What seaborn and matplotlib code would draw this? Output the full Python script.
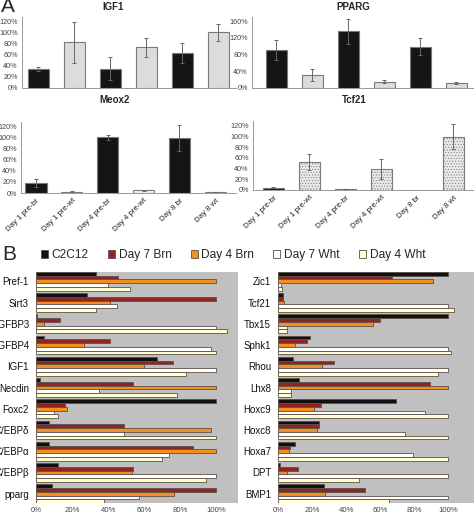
import numpy as np
import pandas as pd
import matplotlib
matplotlib.use("Agg")
import matplotlib.pyplot as plt
import seaborn as sns
from matplotlib.ticker import PercentFormatter

# ==========================================
# Data - panel A (relative expression, %)
# ==========================================

samples = ["Day 1 pre-br", "Day 1 pre-wt", "Day 4 pre-br",
           "Day 4 pre-wt", "Day 8 br", "Day 8 wt"]

igf1 = [35, 83, 35, 74, 63, 101]
igf1_err = [4, 37, 21, 17, 18, 16]

pparg = [91, 31, 136, 15, 99, 12]
pparg_err = [25, 14, 30, 3, 20, 3]

meox2 = [18, 2, 101, 5, 100, 1]
meox2_err = [7, 1, 4, 1, 24, 0.5]

tcf21 = [4, 53, 1, 39, 0, 100]
tcf21_err = [1, 15, 0.5, 19, 0.5, 23]

# ==========================================
# Data - panel B
# ==========================================

series_names = ["C2C12", "Day 7 Brn", "Day 4 Brn", "Day 7 Wht", "Day 4 Wht"]
series_colors = ["#111111", "#8e2424", "#f0901e", "#ffffff", "#ffffd2"]

genes_left = ["Pref-1", "Sirt3", "IGFBP3", "IGFBP4", "IGF1", "Necdin",
              "Foxc2", "C/EBPδ", "C/EBPα", "C/EBPβ", "pparg"]
left_c2c12 = [33, 28, 0.5, 4.4, 67, 2, 100, 7, 7, 12, 9]
left_d7brn = [45.5, 100, 13.5, 41, 76, 54, 16, 49, 87, 54, 100]
left_d4brn = [100, 41, 4.4, 26.6, 60, 100, 17, 97, 100, 53, 76.5]
left_d7wht = [40, 45, 100, 97, 100, 35, 10, 49, 74, 100, 57]
left_d4wht = [52, 33, 106, 100, 83, 78, 12, 100, 70, 94, 37.5]

genes_right = ["Zic1", "Tcf21", "Tbx15", "Sphk1", "Rhou", "Lhx8",
               "Hoxc9", "Hoxc8", "Hoxa7", "DPT", "BMP1"]
right_c2c12 = [100, 3, 100, 19, 9, 12.5, 69, 24, 10, 1, 27]
right_d7brn = [67, 3, 60, 17, 33, 89, 25, 24, 7, 12, 51]
right_d4brn = [91, 3.5, 55.5, 10, 26, 100, 21, 23, 6.5, 5.5, 27.5]
right_d7wht = [2, 100, 5.5, 100, 100, 7.5, 86, 74.5, 79.5, 100, 100]
right_d4wht = [2.5, 103, 5.5, 101.5, 94, 7.5, 100, 100, 100, 47.5, 65]

# ==========================================
# Style
# ==========================================

sns.set_style("white")
plt.rcParams["font.family"] = ["Liberation Sans", "DejaVu Sans"]
plt.rcParams["hatch.linewidth"] = 0.4

W, H = 474, 517
fig = plt.figure(figsize=(W / 100, H / 100), dpi=100)


def px_axes(left, top, right, bottom):
    return fig.add_axes([left / W, 1 - bottom / H, (right - left) / W, (bottom - top) / H])


# ==========================================
# Panel A
# ==========================================

def draw_a(ax, vals, errs, light, ymax, ystep, xlim, show_x, hatch=None):
    df = pd.DataFrame({"sample": samples, "value": vals})
    colors = ["#151515" if i % 2 == 0 else light for i in range(len(samples))]
    sns.barplot(data=df, x="sample", y="value", hue="sample", palette=colors,
                legend=False, width=0.59, edgecolor="#7a7a7a", linewidth=0.8,
                saturation=1, errorbar=None, ax=ax)
    if hatch:
        for i, p in enumerate(ax.patches):
            if i % 2 == 1:
                p.set_hatch(hatch)
    ax.errorbar(range(len(samples)), vals, yerr=errs, fmt="none",
                ecolor="#666666", elinewidth=0.7, capsize=1.6, capthick=0.7)
    ax.set_ylim(0, ymax)
    ax.set_xlim(*xlim)
    ax.set_yticks(np.arange(0, ymax, ystep))
    ax.yaxis.set_major_formatter(PercentFormatter(decimals=0))
    ax.tick_params(axis="y", labelsize=5.2, colors="#444444", length=2, width=0.5, pad=1)
    ax.set_xlabel("")
    ax.set_ylabel("")
    if show_x:
        ax.set_xticks(range(len(samples)))
        ax.set_xticklabels(samples, rotation=45, ha="right", rotation_mode="anchor",
                           fontsize=5.6, color="#222222")
        ax.tick_params(axis="x", length=0, pad=3)
    else:
        ax.set_xticklabels([])
        ax.tick_params(axis="x", length=0)
    sns.despine(ax=ax)
    for s in ["left", "bottom"]:
        ax.spines[s].set_color("#999999")
        ax.spines[s].set_linewidth(0.7)


ax1 = px_axes(22, 17, 236, 88)
draw_a(ax1, igf1, igf1_err, "#dcdcdc", 129, 20, (-0.45, 5.49), False)

ax2 = px_axes(252, 17, 474, 88)
draw_a(ax2, pparg, pparg_err, "#dcdcdc", 170, 40, (-0.67, 5.49), False)

ax3 = px_axes(21, 122, 236, 193)
draw_a(ax3, meox2, meox2_err, "#f2f2f2", 129, 20, (-0.42, 5.58), True)

ax4 = px_axes(253, 121, 474, 190)
draw_a(ax4, tcf21, tcf21_err, "#e8e8e8", 129, 20, (-0.56, 5.58), True, hatch="......")

fig.text(113 / W, 1 - 7 / H, "IGF1", ha="center", va="center", fontsize=7, fontweight="bold")
fig.text(353 / W, 1 - 7 / H, "PPARG", ha="center", va="center", fontsize=7, fontweight="bold")
fig.text(115 / W, 1 - 100 / H, "Meox2", ha="center", va="center", fontsize=7, fontweight="bold")
fig.text(354 / W, 1 - 100 / H, "Tcf21", ha="center", va="center", fontsize=7, fontweight="bold")
fig.text(1 / W, 1 - 7 / H, "A", ha="left", va="center", fontsize=15)

# ==========================================
# Panel B
# ==========================================

def draw_b(ax, genes, cols, xmax):
    df = pd.DataFrame({"gene": genes})
    for name, v in zip(series_names, cols):
        df[name] = v
    long = df.melt(id_vars="gene", var_name="sample", value_name="value")
    sns.barplot(data=long, y="gene", x="value", hue="sample", hue_order=series_names,
                palette=series_colors, width=0.88, edgecolor="#5e5048", linewidth=0.6,
                saturation=1, errorbar=None, orient="h", ax=ax)
    ax.set_facecolor("#c0c0c0")
    ax.set_xlim(0, xmax)
    ax.set_ylim(len(genes) - 0.56, -0.44)
    ax.set_xticks(np.arange(0, 101, 20))
    ax.xaxis.set_major_formatter(PercentFormatter(decimals=0))
    ax.tick_params(axis="x", labelsize=5.6, colors="#444444", length=0, pad=3)
    ax.tick_params(axis="y", labelsize=7, colors="#111111", length=0, pad=5)
    ax.set_xlabel("")
    ax.set_ylabel("")
    for s in ax.spines.values():
        s.set_visible(False)


ax5 = px_axes(36, 272, 238, 503)
draw_b(ax5, genes_left, [left_c2c12, left_d7brn, left_d4brn, left_d7wht, left_d4wht], 112)
handles, labels = ax5.get_legend_handles_labels()
ax5.legend_.remove()

ax6 = px_axes(278, 272, 474, 503)
draw_b(ax6, genes_right, [right_c2c12, right_d7brn, right_d4brn, right_d7wht, right_d4wht], 115)
ax6.legend_.remove()

fig.legend(handles, labels, loc="center", bbox_to_anchor=(233 / W, 1 - 255 / H),
           ncol=5, frameon=False, fontsize=8.6, handlelength=0.6, handleheight=0.6,
           handletextpad=0.3, columnspacing=1.6)
fig.text(2 / W, 1 - 255 / H, "B", ha="left", va="center", fontsize=15)

fig.savefig("out.png", dpi=100)
